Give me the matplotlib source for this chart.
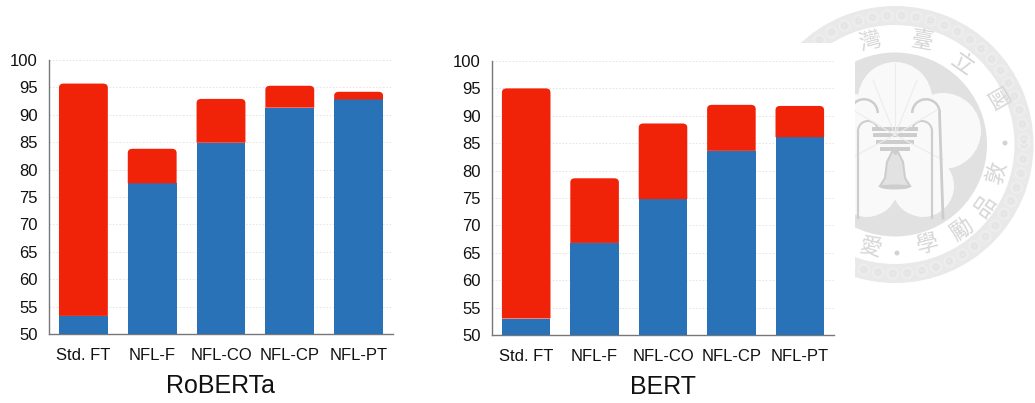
#! /usr/bin/env python

import matplotlib
matplotlib.use("Agg")
import matplotlib.pyplot as plt
import numpy as np
from matplotlib.patches import Circle, Wedge, Rectangle, PathPatch, Ellipse, Polygon
from matplotlib.path import Path

plt.rcParams['font.family'] = ['Liberation Sans', 'Noto Sans CJK TC', 'DejaVu Sans']

categories = ["Std. FT", "NFL-F", "NFL-CO", "NFL-CP", "NFL-PT"]
yticks = [50, 55, 60, 65, 70, 75, 80, 85, 90, 95, 100]

roberta_blue = [53.3, 77.5, 84.9, 91.3, 92.8]
roberta_total = [95.7, 83.8, 92.9, 95.3, 94.2]
bert_blue = [53.0, 66.8, 74.8, 83.6, 86.1]
bert_total = [95.0, 78.6, 88.6, 92.0, 91.8]

BLUE = '#2a72b7'
RED = '#f02208'
W, H = 1035, 403


def axes_px(fig, left, right, top, bottom):
    return fig.add_axes([left/W, 1-bottom/H, (right-left)/W, (bottom-top)/H])


def round_top(ax, x, y0, y1, w, color, rx=0.07, ry=0.75):
    # red cap with small rounded corners
    l, r = x-w/2, x+w/2
    ry = min(ry, (y1-y0)/2)
    verts = [(l, y0), (l, y1-ry), (l, y1), (l+rx, y1), (r-rx, y1), (r, y1), (r, y1-ry), (r, y0), (l, y0)]
    codes = [Path.MOVETO, Path.LINETO, Path.CURVE3, Path.CURVE3, Path.LINETO,
             Path.CURVE3, Path.CURVE3, Path.LINETO, Path.CLOSEPOLY]
    ax.add_patch(PathPatch(Path(verts, codes), fc=color, ec='none', zorder=3))


def stacked(ax, blue, total, title):
    xs = np.arange(len(categories))
    ax.bar(xs, np.array(blue)-50, 0.71, bottom=50, color=BLUE, zorder=3)
    for x, b, t in zip(xs, blue, total):
        round_top(ax, x, b, t, 0.71, RED)
    ax.set_xlim(-0.5, 4.5)
    ax.set_ylim(50, 100)
    ax.set_yticks(yticks)
    ax.set_xticks(xs)
    ax.set_xticklabels(categories)
    ax.tick_params(axis='both', length=0, labelsize=12, labelcolor='#111111')
    ax.tick_params(axis='x', pad=10)
    ax.tick_params(axis='y', pad=8)
    ax.grid(axis='y', ls=(0, (2, 2)), lw=0.6, color='#e2e2e2', zorder=0)
    ax.set_axisbelow(True)
    for s in ['top', 'right']:
        ax.spines[s].set_visible(False)
    for s in ['left', 'bottom']:
        ax.spines[s].set_color('#777777')
        ax.spines[s].set_linewidth(1.0)
    ax.patch.set_alpha(0)
    ax.set_xlabel(title, fontsize=18, labelpad=8, color='#111111')


def seal(ax):
    cx, cy, R = 895, 144.5, 138.5
    dark, ring, lobe = '#cdcdcd', '#e1e1e1', '#f9f9f9'
    # outer band with the scroll pattern
    ax.add_patch(Wedge((cx, cy), R, 0, 360, width=19, fc='#e9e9e9', ec='none'))
    for a in np.arange(0, 360, 6.5):
        t = np.radians(a)
        ax.add_patch(Circle((cx+(R-9.5)*np.cos(t), cy+(R-9.5)*np.sin(t)), 5.5, fc='none', ec='#f1f1f1', lw=0.7))
        ax.add_patch(Circle((cx+(R-9.5)*np.cos(t), cy+(R-9.5)*np.sin(t)), 2.2, fc='none', ec='#e0e0e0', lw=0.6))
    # inner disc and the plum blossom petals
    ax.add_patch(Circle((cx, cy), 92, fc=ring, ec='none'))
    for (x, y, r) in [(895, 99, 37), (943, 131, 38), (847, 131, 38), (923, 186, 31), (867, 186, 31)]:
        ax.add_patch(Circle((x, y), r, fc=lobe, ec='none'))
    ax.add_patch(Circle((cx, 150), 50, fc=lobe, ec='none'))
    ax.add_patch(Polygon([(895, 208), (860, 222), (930, 222)], fc=ring, ec='none'))
    # fronds
    for dx, top in [(0, 63), (-22, 80), (22, 80), (-42, 110), (42, 110), (-48, 160), (48, 160)]:
        ax.plot([895, 895+dx], [135, top], color='#ececec', lw=0.8)
    # arches
    for sgn in (-1, 1):
        xa = cx+sgn*31
        ax.add_patch(Wedge((xa, 113), 15, 180, 360, width=2.5, fc=dark, ec='none'))
        ax.plot([xa+sgn*13.5, xa+sgn*17], [113, 218], color=dark, lw=2)
        xb = cx+sgn*27
        ax.add_patch(Wedge((xb, 131), 11, 180, 360, width=2, fc=dark, ec='none'))
        ax.plot([xb+sgn*10, xb+sgn*10], [131, 218], color=dark, lw=1.6)
    # bowl
    for y, w in [(127, 46), (133, 44), (140, 38), (147, 30)]:
        ax.add_patch(Rectangle((cx-w/2, y), w, 3.5, fc=dark, ec='none'))
    # bell
    bell = [(892, 152), (898, 152), (903, 162), (905, 178), (910, 186), (880, 186), (885, 178), (887, 162)]
    ax.add_patch(Polygon(bell, fc='#e2e2e2', ec=dark, lw=1.5))
    ax.add_patch(Ellipse((cx, 187), 30, 5, fc=dark, ec='none'))
    ax.plot([cx, cx], [148, 153], color=dark, lw=2)
    # seal text
    chars = [("灣", 870, 42, 14), ("臺", 922, 42, -10), ("立", 962, 65, -35), ("國", 995, 100, -60),
             ("敦", 998, 173, 75), ("品", 985, 207, 55), ("勵", 962, 230, 35),
             ("學", 928, 245, 14), ("愛", 870, 248, -14)]
    for c, x, y, rot in chars:
        ax.text(x, y, c, fontsize=16, color='#d6d6d6', rotation=rot, ha='center', va='center')
    for x, y in [(1005, 143), (897, 253)]:
        ax.add_patch(Circle((x, y), 2.5, fc='#d2d2d2', ec='none'))
    # the charts were pasted over the seal
    ax.add_patch(Rectangle((0, 43), 855, H-43, fc='white', ec='none', zorder=5))


fig = plt.figure(figsize=(W/100, H/100), dpi=100)

bg = fig.add_axes([0, 0, 1, 1])
bg.set_xlim(0, W)
bg.set_ylim(H, 0)
bg.axis('off')
seal(bg)

ax1 = axes_px(fig, 49, 393, 60, 334)
stacked(ax1, roberta_blue, roberta_total, "RoBERTa")

ax2 = axes_px(fig, 492, 834, 61, 335)
stacked(ax2, bert_blue, bert_total, "BERT")

fig.savefig("out.png", dpi=100)
